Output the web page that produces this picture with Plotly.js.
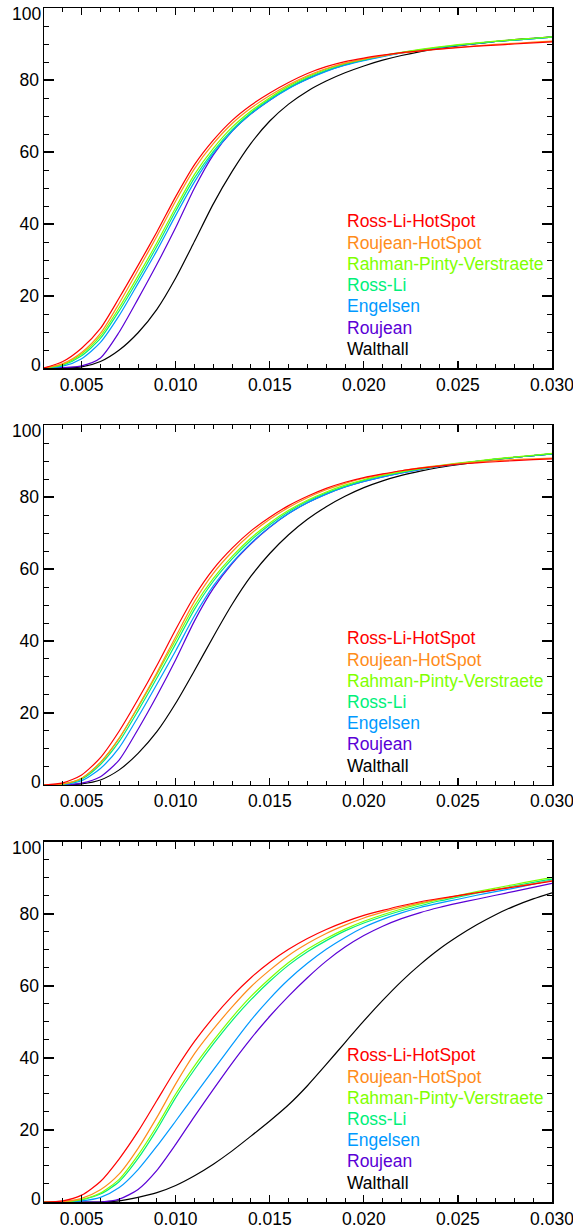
<!DOCTYPE html>
<html>
<head>
<meta charset="utf-8">
<script src="https://cdn.plot.ly/plotly-3.0.1.min.js"></script>
<style>html,body{margin:0;padding:0;background:#fff;}#chart{width:573px;height:1227px;}</style>
</head>
<body>
<div id="chart"></div>
<script>
// x values (shared by all series)
const xs = [0.003,0.004,0.005,0.006,0.007,0.008,0.009,0.010,0.011,0.012,0.013,0.014,0.015,0.016,0.017,0.018,0.019,0.020,0.021,0.022,0.023,0.024,0.025,0.026,0.027,0.028,0.029,0.030];

const seriesNames = ["Ross-Li-HotSpot","Roujean-HotSpot","Rahman-Pinty-Verstraete","Ross-Li","Engelsen","Roujean","Walthall"];
const seriesColors = ["#ff0000","#ff8c1a","#80ff00","#00f07a","#0099ff","#5a00d6","#000000"];

// y tick labels
const yTickVals = [0,20,40,60,80,100];
const yTickText = ["","20","40","60","80",""];
const yEndLabels = ["0","100"];

// Panel 1
const p1RossLiHotSpot = [0,1.8,5.5,11.0,19.5,28.5,37.8,47.6,56.5,63.3,68.8,73.0,76.4,79.3,81.8,83.7,85.1,86.1,86.9,87.6,88.1,88.6,89.0,89.4,89.7,90.0,90.3,90.6];
const p1RoujeanHotSpot = [0,1.2,4.3,9.6,18.0,27.2,36.6,46.4,55.4,62.3,67.9,72.2,75.7,78.7,81.2,83.2,84.7,85.8,86.7,87.5,88.1,88.6,89.1,89.5,89.9,90.2,90.5,90.8];
const p1RahmanPV = [0,1.0,3.9,8.9,16.8,25.6,34.8,44.6,53.8,61.0,66.9,71.4,75.1,78.3,80.9,83.0,84.6,85.8,86.8,87.7,88.5,89.2,89.8,90.3,90.8,91.2,91.6,92.0];
const p1RossLi = [0,0.8,3.4,8.2,15.9,24.6,33.8,43.6,52.8,60.2,66.2,70.9,74.7,77.9,80.6,82.7,84.4,85.6,86.7,87.6,88.4,89.1,89.7,90.2,90.7,91.1,91.5,91.9];
const p1Engelsen = [0,0.5,2.6,7.1,14.6,23.5,32.6,42.4,51.7,59.6,65.8,70.6,74.4,77.6,80.2,82.4,84.1,85.4,86.5,87.5,88.3,89.0,89.6,90.2,90.7,91.1,91.5,91.9];
const p1Roujean = [0,0.1,0.6,2.8,10.0,19.2,28.8,39.0,50.0,59.2,65.8,70.6,74.4,77.7,80.3,82.5,84.2,85.5,86.6,87.5,88.3,89.0,89.6,90.2,90.7,91.1,91.5,91.9];
const p1Walthall = [0,0,0.3,1.8,5.0,9.8,16.3,25.0,35.2,45.6,54.6,62.4,68.6,73.3,76.9,79.7,82.0,83.9,85.5,86.8,87.9,88.8,89.5,90.1,90.7,91.2,91.6,92.0];

// Panel 2
const p2RossLiHotSpot = [0,0.6,2.8,7.6,15.0,23.8,33.2,43.2,52.5,60.0,65.8,70.6,74.4,77.6,80.2,82.4,84.1,85.4,86.4,87.3,88.0,88.6,89.1,89.5,89.8,90.1,90.4,90.6];
const p2RoujeanHotSpot = [0,0.3,1.9,6.2,13.0,21.8,31.2,41.2,51.0,58.8,64.8,69.8,73.8,77.1,79.8,82.0,83.8,85.2,86.3,87.3,88.1,88.7,89.3,89.7,90.1,90.4,90.6,90.8];
const p2RahmanPV = [0,0.3,1.9,6.3,13.0,21.6,30.8,40.3,49.8,57.4,63.5,68.6,72.8,76.3,79.1,81.4,83.3,84.8,86.0,87.0,87.9,88.7,89.4,90.0,90.6,91.1,91.6,92.1];
const p2RossLi = [0,0.2,1.6,5.7,12.1,20.6,29.7,39.2,48.8,56.6,62.8,68.0,72.3,75.9,78.8,81.1,83.0,84.6,85.9,86.9,87.8,88.6,89.3,89.9,90.5,91.0,91.5,92.0];
const p2Engelsen = [0,0.1,1.2,4.6,10.4,18.9,28.0,37.3,47.0,55.3,61.8,67.2,71.7,75.4,78.4,80.8,82.8,84.3,85.6,86.7,87.7,88.5,89.2,89.9,90.5,91.0,91.5,92.0];
const p2Roujean = [0,0,0.5,2.3,7.0,15.5,24.8,34.8,45.6,54.6,61.5,67.0,71.6,75.4,78.4,80.8,82.8,84.3,85.6,86.7,87.7,88.5,89.2,89.9,90.5,91.0,91.5,92.0];
const p2Walthall = [0,0,0.3,1.4,4.2,8.8,14.8,22.7,31.8,41.2,50.2,58.0,64.3,69.5,73.8,77.3,80.2,82.6,84.5,86.0,87.2,88.2,89.0,89.7,90.4,91.0,91.5,92.0];

// Panel 3
const p3RossLiHotSpot = [0,0.3,1.9,5.7,12.0,19.6,28.2,36.8,44.6,51.3,57.2,62.3,66.6,70.2,73.2,75.7,77.8,79.6,81.0,82.3,83.4,84.3,85.1,85.9,86.7,87.5,88.3,89.1];
const p3RoujeanHotSpot = [0,0.1,1.0,3.4,7.8,14.9,23.5,32.8,41.2,48.0,54.2,59.8,64.4,68.5,71.8,74.6,76.9,78.9,80.5,81.9,83.1,84.1,85.0,85.9,86.8,87.6,88.4,89.3];
const p3RahmanPV = [0,0,0.7,2.5,6.3,13.0,21.1,30.0,37.8,44.8,51.3,57.1,62.1,66.5,70.2,73.2,75.8,78.0,79.8,81.4,82.8,84.0,85.1,86.2,87.2,88.2,89.2,90.1];
const p3RossLi = [0,0,0.6,2.2,5.7,12.1,20.1,29.0,36.8,43.9,50.4,56.2,61.3,65.8,69.5,72.6,75.3,77.5,79.3,80.9,82.3,83.6,84.7,85.8,86.8,87.8,88.8,89.7];
const p3Engelsen = [0,0,0.3,1.3,4.0,9.0,15.5,22.5,29.6,36.7,43.7,50.5,56.5,61.8,66.3,70.2,73.5,76.3,78.5,80.3,81.8,83.0,84.1,85.2,86.2,87.2,88.3,89.4];
const p3Roujean = [0,0,0,0,0.8,3.5,8.8,16.0,23.8,31.3,38.6,45.4,51.6,57.2,62.3,66.9,70.8,74.0,76.6,78.7,80.4,81.8,83.0,84.1,85.2,86.3,87.4,88.5];
const p3Walthall = [0,0,0,0,0.3,1.3,2.6,4.6,7.3,10.5,14.2,18.3,22.5,27.0,32.3,38.2,44.3,50.3,56.0,61.3,66.0,70.2,73.8,77.0,79.8,82.2,84.2,85.9];

const panels = [
  [p1RossLiHotSpot,p1RoujeanHotSpot,p1RahmanPV,p1RossLi,p1Engelsen,p1Roujean,p1Walthall],
  [p2RossLiHotSpot,p2RoujeanHotSpot,p2RahmanPV,p2RossLi,p2Engelsen,p2Roujean,p2Walthall],
  [p3RossLiHotSpot,p3RoujeanHotSpot,p3RahmanPV,p3RossLi,p3Engelsen,p3Roujean,p3Walthall]
];

const FONT = "Liberation Sans, Arial, Helvetica, sans-serif";
const traces = [];
const annotations = [];
panels.forEach((series, p) => {
  const suf = p === 0 ? "" : String(p + 1);
  for (let i = series.length - 1; i >= 0; i--) {
    traces.push({
      x: xs, y: series[i], type: "scatter", mode: "lines",
      name: seriesNames[i], showlegend: false, hoverinfo: "skip",
      xaxis: "x" + suf, yaxis: "y" + suf,
      line: {color: seriesColors[i], width: 1.2, shape: "spline", smoothing: 0.7}
    });
  }
  seriesNames.forEach((nm, i) => {
    annotations.push({
      text: nm, showarrow: false,
      xref: "x" + suf + " domain", yref: "y" + suf + " domain",
      x: 0.5925, y: 0.407 - i * 0.0589,
      xanchor: "left", yanchor: "middle",
      font: {family: FONT, size: 17.5, color: seriesColors[i]}
    });
  });
  // end labels of the y axis (drawn slightly inside the box, as in the original)
  annotations.push({
    text: yEndLabels[0], showarrow: false,
    xref: "x" + suf + " domain", yref: "y" + suf + " domain",
    x: 0, y: 0, xanchor: "right", yanchor: "middle", xshift: -1, yshift: 3,
    font: {family: FONT, size: 17.5, color: "#000"}
  });
  annotations.push({
    text: yEndLabels[1], showarrow: false,
    xref: "x" + suf + " domain", yref: "y" + suf + " domain",
    x: 0, y: 1, xanchor: "right", yanchor: "middle", xshift: -1, yshift: -6,
    font: {family: FONT, size: 17.5, color: "#000"}
  });
});

function xAxis(anchor) {
  return {
    anchor: anchor, domain: [0, 1], range: [0.003, 0.03000001],
    tick0: 0, dtick: 0.005, tickformat: ".3f",
    ticks: "inside", ticklen: 7, tickwidth: 1.2, tickcolor: "#000",
    minor: {dtick: 0.001, tick0: 0, ticklen: 3.6, tickwidth: 1, tickcolor: "#000", ticks: "inside", showgrid: false},
    showline: true, linecolor: "#000", linewidth: 1.5, mirror: "allticks",
    showgrid: false, zeroline: false, ticklabeloverflow: "allow",
    tickfont: {family: FONT, size: 17.5, color: "#000"}
  };
}
function yAxis(anchor, domain) {
  return {
    anchor: anchor, domain: domain, range: [0, 100],
    tickmode: "array", tickvals: yTickVals, ticktext: yTickText,
    ticks: "inside", ticklen: 10, tickwidth: 1.2, tickcolor: "#000",
    minor: {tickmode: "linear", dtick: 5, tick0: 0, ticklen: 5, tickwidth: 1, tickcolor: "#000", ticks: "inside", showgrid: false},
    showline: true, linecolor: "#000", linewidth: 1.5, mirror: "allticks",
    showgrid: false, zeroline: false, ticklabeloverflow: "allow",
    tickfont: {family: FONT, size: 17.5, color: "#000"}
  };
}

const layout = {
  width: 573, height: 1227,
  margin: {l: 44, r: 21, t: 8, b: 25},
  paper_bgcolor: "#fff", plot_bgcolor: "#fff",
  showlegend: false,
  xaxis: xAxis("y"), xaxis2: xAxis("y2"), xaxis3: xAxis("y3"),
  yaxis: yAxis("x", [0.69849, 1]),
  yaxis2: yAxis("x2", [0.34925, 0.65075]),
  yaxis3: yAxis("x3", [0, 0.30151]),
  annotations: annotations
};

Plotly.newPlot("chart", traces, layout, {staticPlot: true, displayModeBar: false});
</script>
</body>
</html>
